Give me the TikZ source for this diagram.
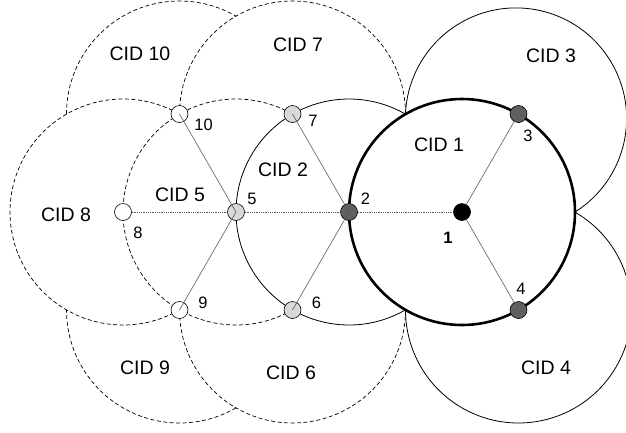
\documentclass[tikz,border=0pt]{standalone}
\usepackage{fontspec}
\setmainfont{Liberation Sans}
\definecolor{dkgray}{RGB}{96,96,96}
\definecolor{ltgray}{RGB}{216,216,216}
\definecolor{edgegray}{RGB}{90,90,90}
\begin{document}
\begin{tikzpicture}[x=1pt,y=-1pt,
  vtx/.style={circle,draw=black,line width=0.6pt,minimum size=17pt,inner sep=0pt},
  rangesolid/.style={draw=black,line width=0.8pt},
  rangedash/.style={draw=black,line width=0.7pt,dash pattern=on 4pt off 2.5pt},
  rangethick/.style={draw=black,line width=2.6pt},
  hlink/.style={draw=edgegray,line width=0.8pt,densely dotted},
  slink/.style={draw=edgegray,line width=0.6pt},
  cidlbl/.style={font=\fontsize{19.5}{22}\selectfont,inner sep=0pt},
  numlbl/.style={font=\fontsize{16.5}{18}\selectfont,inner sep=0pt}]
\clip (0,0) rectangle (626,432);
% dashed ranges
\draw[rangedash] (236,212) ++(60:113) arc[start angle=60,end angle=300,radius=113];
\draw[rangedash] (292.5,310) ++(0:113) arc[start angle=0,end angle=180,radius=113];
\draw[rangedash] (292.5,114) ++(180:113) arc[start angle=180,end angle=360,radius=113];
\draw[rangedash] (123,212) ++(60:113) arc[start angle=60,end angle=300,radius=113];
\draw[rangedash] (179.5,310) ++(60:113) arc[start angle=60,end angle=180,radius=113];
\draw[rangedash] (179.5,114) ++(180:113) arc[start angle=180,end angle=300,radius=113];
% solid ranges
\draw[rangesolid] (349,212) ++(60:113) arc[start angle=60,end angle=300,radius=113];
\draw[rangesolid] (516,118.5) ++(57.75:110.6) arc[start angle=57.75,end angle=-177.67,radius=110.6];
\draw[rangesolid] (518.5,310) ++(-60:113) arc[start angle=-60,end angle=180,radius=113];
\draw[rangethick] (462,212) circle[radius=113];
% nodes
\node[vtx,fill=black] (n1) at (462,212) {};
\node[vtx,fill=dkgray] (n2) at (349,212) {};
\node[vtx,fill=dkgray] (n3) at (518.5,114) {};
\node[vtx,fill=dkgray] (n4) at (518.5,310) {};
\node[vtx,fill=ltgray] (n5) at (236,212) {};
\node[vtx,fill=ltgray] (n6) at (292.5,310) {};
\node[vtx,fill=ltgray] (n7) at (292.5,114) {};
\node[vtx,fill=white] (n8) at (123,212) {};
\node[vtx,fill=white] (n9) at (179.5,310) {};
\node[vtx,fill=white] (n10) at (179.5,114) {};
% links
\draw[hlink] (n8) -- (n5);
\draw[hlink] (n5) -- (n2);
\draw[hlink] (n2) -- (n1);
\draw[slink] (n1) -- (n3);
\draw[slink] (n1) -- (n4);
\draw[slink] (n2.center) -- (n7.center);
\draw[slink] (n2.center) -- (n6.center);
\draw[slink] (n5.center) -- (n10.center);
\draw[slink] (n5.center) -- (n9.center);
% node labels
\node[numlbl,font=\fontsize{16.5}{18}\selectfont\bfseries] (l1) at (448,237.5) {1};
\node[numlbl] (l2) at (365.5,199) {2};
\node[numlbl] (l3) at (528,136) {3};
\node[numlbl] (l4) at (521,289) {4};
\node[numlbl] (l5) at (252,198.5) {5};
\node[numlbl] (l6) at (316.5,302.5) {6};
\node[numlbl] (l7) at (313,121) {7};
\node[numlbl] (l8) at (138,232.5) {8};
\node[numlbl] (l9) at (203,302.5) {9};
\node[numlbl] (l10) at (203.5,125) {10};
% cell labels
\node[cidlbl] (c1) at (439,144.5) {CID 1};
\node[cidlbl] (c2) at (283,169.5) {CID 2};
\node[cidlbl] (c3) at (551,55.5) {CID 3};
\node[cidlbl] (c4) at (546,368) {CID 4};
\node[cidlbl] (c5) at (180,194.5) {CID 5};
\node[cidlbl] (c6) at (291,373) {CID 6};
\node[cidlbl] (c7) at (298,44.5) {CID 7};
\node[cidlbl] (c8) at (66,214.5) {CID 8};
\node[cidlbl] (c9) at (145,368) {CID 9};
\node[cidlbl] (c10) at (140,53.5) {CID 10};
\end{tikzpicture}
\end{document}
